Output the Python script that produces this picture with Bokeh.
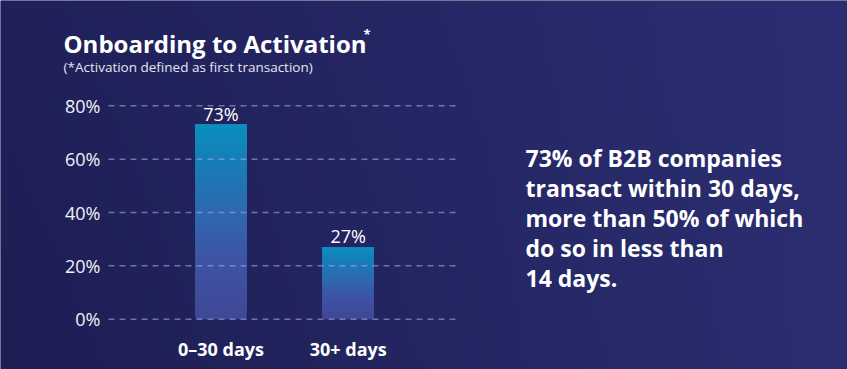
import numpy as np
from bokeh.plotting import figure
from bokeh.models import Range1d, Label
from bokeh.core.properties import value
from bokeh.embed import file_html
from bokeh.resources import INLINE

# ---------------- data ----------------
categories = ["0–30 days", "30+ days"]
values = [73, 27]
value_labels = ["73%", "27%"]
y_ticks = [0, 20, 40, 60, 80]
y_tick_labels = ["0%", "20%", "40%", "60%", "80%"]
title_text = "Onboarding to Activation"
subtitle_text = "(*Activation defined as first transaction)"
callout_lines = ["73% of B2B companies", "transact within 30 days,",
                 "more than 50% of which", "do so in less than", "14 days."]

# ---------------- layout ----------------
W, H = 847, 369
UX = 127.2          # px per category step
UY = 2.667          # px per percent
CAT0_PX = 220.5     # px of first category centre
ZERO_PX = 318.7     # px (from top) of 0%
x_start = -CAT0_PX / UX
x_end = x_start + W / UX
y_start = -(H - ZERO_PX) / UY
y_end = y_start + H / UY

def dx(px):
    return x_start + px / UX

def dy(py):
    return y_start + (H - py) / UY

FONT = "Open Sans"

p = figure(width=W, height=H, output_backend="svg", toolbar_location=None,
           x_range=Range1d(x_start, x_end), y_range=Range1d(y_start, y_end),
           x_axis_location=None, y_axis_location=None, min_border=0,
           outline_line_color=None, background_fill_color="#24265f",
           border_fill_color="#24265f")
p.grid.visible = False

# background gradient
gh, gw = H // 3, W // 3
tx = np.linspace(0, 1, gw)[None, :]
ty = np.linspace(0, 1, gh)[:, None]
c_tl = np.array([0x20, 0x21, 0x59]); c_tr = np.array([0x2b, 0x2e, 0x72])
c_bl = np.array([0x1d, 0x1e, 0x53]); c_br = np.array([0x2b, 0x2e, 0x70])
top = c_tl[None, None, :] * (1 - tx[..., None]) + c_tr[None, None, :] * tx[..., None]
bot = c_bl[None, None, :] * (1 - tx[..., None]) + c_br[None, None, :] * tx[..., None]
rgb = bot * (1 - ty[..., None]) + top * ty[..., None]
img = np.empty((gh, gw), dtype=np.uint32)
view = img.view(dtype=np.uint8).reshape((gh, gw, 4))
view[..., 0] = rgb[..., 0].astype(np.uint8)
view[..., 1] = rgb[..., 1].astype(np.uint8)
view[..., 2] = rgb[..., 2].astype(np.uint8)
view[..., 3] = 255
p.image_rgba(image=[img], x=x_start, y=y_start, dw=x_end - x_start, dh=y_end - y_start)

# gradient bars: each slice runs from its own bottom up to the bar top and
# later slices cover the earlier ones, so no seams appear between them
stops_t = [0.0, 0.16, 0.44, 0.72, 1.0]
stops_c = np.array([[0x0b, 0x8e, 0xc0], [0x14, 0x80, 0xb8], [0x2e, 0x69, 0xb0],
                    [0x3f, 0x52, 0xa2], [0x3f, 0x48, 0x96]], dtype=float)
N = 80
bar_w = 51 / UX
L, R, B, T, C = [], [], [], [], []
for i, v in enumerate(values):
    for k in range(N):
        b = v * k / N
        frac_from_top = 1 - (k + 0.5) / N
        col = [np.interp(frac_from_top, stops_t, stops_c[:, j]) for j in range(3)]
        L.append(i - bar_w / 2); R.append(i + bar_w / 2)
        B.append(b); T.append(v)
        C.append("#%02x%02x%02x" % tuple(int(round(c)) for c in col))
p.quad(left=L, right=R, bottom=B, top=T, fill_color=C, line_color=None)

# gridlines
grid_x0 = dx(108)
grid_x1 = dx(460)
p.segment(x0=[grid_x0] * len(y_ticks), x1=[grid_x1] * len(y_ticks), y0=y_ticks, y1=y_ticks,
          line_color="#a4a8e0", line_alpha=0.6, line_width=1.5, line_dash="6 5")

# y tick labels
p.text(x=[dx(100)] * len(y_ticks), y=y_ticks, text=y_tick_labels,
       text_align="right", text_baseline="middle", text_color="#f2f2f8",
       text_font=value(FONT), text_font_size="18px")

# value labels
xs = list(range(len(categories)))
p.text(x=xs, y=values, text=value_labels, y_offset=-11,
       text_align="center", text_baseline="alphabetic", text_color="#ffffff",
       text_font=value(FONT), text_font_size="18px")

# category labels
p.text(x=xs, y=[0] * len(xs), text=categories, y_offset=30,
       text_align="center", text_baseline="alphabetic", text_color="#ffffff",
       text_font=value(FONT), text_font_size="18px", text_font_style="bold")

# title and subtitle
p.add_layout(Label(x=dx(63), y=dy(43), text=title_text, text_font=FONT,
                   text_font_size="24px", text_font_style="bold", text_color="#ffffff",
                   text_baseline="alphabetic"))
p.add_layout(Label(x=dx(363), y=dy(33), text="*", text_font=FONT,
                   text_font_size="13px", text_font_style="bold", text_color="#ffffff",
                   text_baseline="alphabetic"))
p.add_layout(Label(x=dx(63), y=dy(66), text=subtitle_text, text_font=FONT,
                   text_font_size="13.5px", text_color="#e6e6f0",
                   text_baseline="alphabetic"))

# callout
for i, line in enumerate(callout_lines):
    p.add_layout(Label(x=dx(525), y=dy(157 + 30 * i), text=line, text_font=FONT,
                       text_font_size="23px", text_font_style="bold", text_color="#ffffff",
                       text_baseline="alphabetic"))

open("out.html", "w").write(file_html(p, INLINE))
